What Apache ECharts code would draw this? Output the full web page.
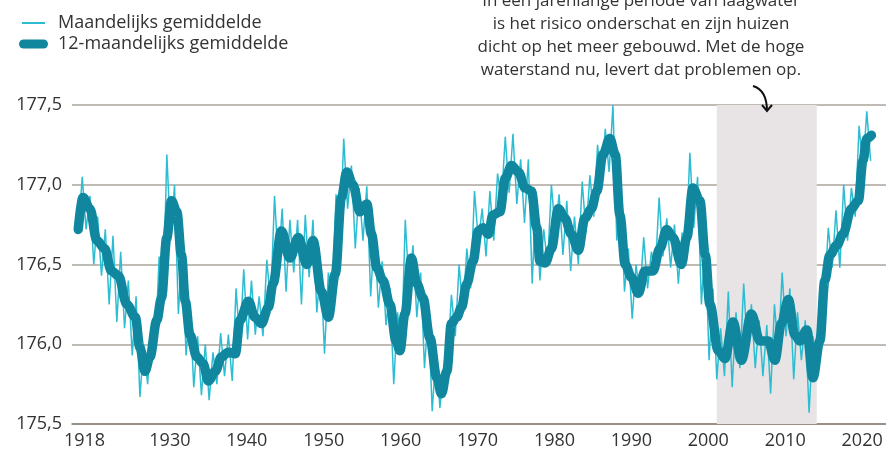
<!DOCTYPE html>
<html>
<head>
<meta charset="utf-8">
<script src="https://cdn.jsdelivr.net/npm/echarts@6/dist/echarts.min.js"></script>
<style>
  html, body { margin: 0; padding: 0; background: #fff; }
  #chart { width: 886px; height: 450px; }
</style>
</head>
<body>
<div id="chart"></div>
<script>
'use strict';

// waterstand Michigan-Huronmeer (m)
var yearLabels = [1918, 1930, 1940, 1950, 1960, 1970, 1980, 1990, 2000, 2010, 2020];

// 12-maandelijks gemiddelde
var avgYears = [
    1918.08, 1918.7, 1919.6, 1920.5, 1921.5, 1922.4, 1923.3, 1924.4, 1925.5, 1926.1,
    1926.75, 1927.4, 1928.3, 1928.9, 1929.6, 1930.2, 1930.9, 1931.5, 1932.0, 1932.6,
    1933.5, 1934.3, 1935.0, 1935.9, 1936.7, 1937.6, 1938.5, 1939.1, 1940.2, 1941.05,
    1941.9, 1942.8, 1943.4, 1944.5, 1945.6, 1946.7, 1947.8, 1948.6, 1949.7, 1950.6,
    1951.5, 1952.3, 1953.0, 1953.8, 1954.7, 1955.6, 1956.2, 1956.9, 1957.7, 1958.6,
    1959.4, 1959.9, 1960.55, 1961.4, 1962.1, 1962.9, 1963.8, 1964.7, 1965.3, 1966.0,
    1966.6, 1967.3, 1967.9, 1968.6, 1969.4, 1970.1, 1970.7, 1971.4, 1972.0, 1972.9,
    1973.6, 1974.4, 1975.3, 1976.2, 1977.0, 1977.7, 1978.1, 1978.8, 1979.6, 1980.5,
    1981.35, 1982.2, 1983.1, 1983.95, 1984.8, 1985.5, 1986.3, 1987.2, 1987.9, 1988.5,
    1989.2, 1990.0, 1990.9, 1991.75, 1992.8, 1993.7, 1994.6, 1995.4, 1996.5, 1997.2,
    1998.0, 1998.9, 1999.6, 2000.2, 2001.3, 2002.15, 2003.2, 2004.3, 2005.6, 2006.7,
    2007.8, 2008.65, 2009.5, 2010.4, 2011.25, 2011.9, 2012.8, 2013.6, 2014.5, 2015.15,
    2015.8, 2016.7, 2017.5, 2018.6, 2019.5, 2020.1, 2020.6, 2021.2
];
var avgLevels = [
    176.72, 176.92, 176.85, 176.65, 176.60, 176.46, 176.43, 176.25, 176.17, 175.98,
    175.83, 175.92, 176.15, 176.29, 176.67, 176.90, 176.83, 176.56, 176.27, 176.06,
    175.92, 175.88, 175.77, 175.83, 175.92, 175.95, 175.94, 176.15, 176.27, 176.17,
    176.13, 176.23, 176.38, 176.71, 176.54, 176.67, 176.50, 176.65, 176.33, 176.17,
    176.44, 176.92, 177.08, 177.00, 176.83, 176.88, 176.69, 176.48, 176.40, 176.25,
    176.02, 175.96, 176.19, 176.54, 176.38, 176.29, 176.04, 175.79, 175.69, 175.83,
    176.13, 176.17, 176.23, 176.38, 176.52, 176.71, 176.73, 176.69, 176.81, 176.83,
    177.04, 177.12, 177.08, 176.98, 176.96, 176.73, 176.52, 176.51, 176.60, 176.85,
    176.79, 176.69, 176.59, 176.79, 176.85, 176.96, 177.19, 177.29, 177.19, 176.81,
    176.50, 176.42, 176.32, 176.46, 176.46, 176.60, 176.72, 176.67, 176.50, 176.67,
    176.98, 176.90, 176.56, 176.25, 175.96, 175.91, 176.14, 175.90, 176.19, 176.02,
    176.02, 175.90, 176.13, 176.28, 176.06, 176.02, 176.09, 175.79, 176.02, 176.40,
    176.56, 176.62, 176.69, 176.85, 176.90, 177.15, 177.29, 177.31
];

// maandelijks gemiddelde: winterdal en zomerpiek per jaar, vanaf 1918
var monthlyLow = [
    176.70, 176.72, 176.50, 176.43, 176.25, 176.14, 176.10, 175.93, 175.67, 175.75,
    175.98, 176.25, 176.65, 176.19, 175.93, 175.73, 175.68, 175.65, 175.75, 175.80,
    175.77, 176.00, 176.03, 176.06, 176.05, 176.25, 176.50, 176.33, 176.45, 176.25,
    176.42, 176.20, 175.94, 176.25, 176.65, 176.85, 176.60, 176.65, 176.30, 176.23,
    176.12, 175.75, 175.95, 176.35, 176.17, 175.85, 175.58, 175.60, 175.90, 176.05,
    176.20, 176.35, 176.65, 176.55, 176.65, 176.90, 176.95, 176.88, 176.76, 176.38,
    176.40, 176.50, 176.70, 176.56, 176.46, 176.50, 176.70, 176.80, 177.00, 177.08,
    176.65, 176.33, 176.16, 176.30, 176.35, 176.45, 176.55, 176.48, 176.38, 176.60,
    176.73, 176.25, 175.90, 175.78, 175.80, 175.73, 175.85, 175.95, 175.85, 175.80,
    175.69, 175.95, 176.05, 175.78, 175.90, 175.57, 175.80, 176.30, 176.48, 176.48,
    176.65, 176.80, 177.10, 177.15
];
var monthlyHigh = [
    177.05, 176.93, 176.80, 176.72, 176.68, 176.58, 176.40, 176.30, 176.00, 176.10,
    176.55, 177.19, 177.00, 176.60, 176.25, 176.05, 176.00, 175.95, 176.07, 176.06,
    176.35, 176.47, 176.40, 176.30, 176.53, 176.93, 176.85, 176.78, 176.78, 176.81,
    176.78, 176.50, 176.45, 176.94, 177.29, 177.12, 176.98, 176.99, 176.72, 176.52,
    176.35, 176.20, 176.78, 176.62, 176.45, 176.20, 175.95, 175.85, 176.31, 176.50,
    176.60, 176.96, 176.85, 176.96, 177.07, 177.30, 177.32, 177.16, 177.16, 176.95,
    176.72, 177.00, 176.94, 176.90, 176.80, 177.02, 177.06, 177.25, 177.35, 177.50,
    176.95, 176.60, 176.50, 176.67, 176.58, 176.92, 176.79, 176.75, 176.70, 177.20,
    177.05, 176.65, 176.35, 176.10, 176.33, 176.20, 176.38, 176.25, 176.15, 176.12,
    176.25, 176.45, 176.35, 176.20, 176.15, 176.05, 176.30, 176.73, 176.84, 177.00,
    176.98, 177.37, 177.46
];

// periode van laagwater
var lowWaterStart = 2001.1;
var lowWaterEnd = 2014.1;

var avgData = avgYears.map(function (y, i) { return [y, avgLevels[i]]; });
var monthlyData = [];
monthlyLow.forEach(function (v, i) {
    monthlyData.push([1918.1 + i, v]);
    if (i < monthlyHigh.length) {
        monthlyData.push([1918.6 + i, monthlyHigh[i]]);
    }
});

var textColor = '#333';
var fontFamily = '"Open Sans", sans-serif';
var thinColor = '#2dbdd2';
var thickColor = '#10879f';

var chart = echarts.init(document.getElementById('chart'));

var option = {
    animation: false,
    backgroundColor: '#fff',
    textStyle: { fontFamily: fontFamily },
    grid: { left: 72, right: 0, top: 105, bottom: 26 },
    legend: [
        {
            left: 22,
            top: 14,
            padding: 0,
            itemWidth: 23,
            itemHeight: 2,
            icon: 'rect',
            textStyle: { color: textColor, fontSize: 18, fontFamily: fontFamily, padding: [0, 0, 0, 8] },
            data: ['Maandelijks gemiddelde']
        },
        {
            left: 19,
            top: 35,
            padding: 0,
            itemWidth: 29,
            itemHeight: 9,
            icon: 'path://M4.5,0 H24.5 A4.5,4.5 0 0 1 24.5,9 H4.5 A4.5,4.5 0 0 1 4.5,0 Z',
            textStyle: { color: textColor, fontSize: 18, fontFamily: fontFamily, padding: [0, 0, 0, 5] },
            data: ['12-maandelijks gemiddelde']
        }
    ],
    xAxis: {
        type: 'value',
        min: 1917.27,
        max: 2023.1,
        splitLine: { show: false },
        axisTick: { show: false },
        axisLine: { show: true, lineStyle: { color: '#8c8174', width: 1.5 } },
        axisLabel: {
            customValues: [1918.9].concat(yearLabels.slice(1)),
            color: textColor,
            fontSize: 18,
            margin: 8,
            formatter: function (v) {
                return v < 1920 ? String(yearLabels[0]) : String(Math.round(v));
            }
        }
    },
    yAxis: {
        type: 'value',
        min: 175.5,
        max: 177.5,
        interval: 0.5,
        axisLine: { show: false },
        axisTick: { show: false },
        splitLine: { lineStyle: { color: '#aca59d', width: 1.5 } },
        axisLabel: {
            color: textColor,
            fontSize: 18,
            margin: 10,
            formatter: function (v) { return v.toFixed(1).replace('.', ','); }
        }
    },
    series: [
        {
            name: 'Maandelijks gemiddelde',
            type: 'line',
            data: monthlyData,
            symbol: 'none',
            z: 2,
            lineStyle: { color: thinColor, width: 1.5 },
            itemStyle: { color: thinColor },
            markArea: {
                silent: true,
                itemStyle: { color: '#e8e4e5' },
                data: [[{ xAxis: lowWaterStart }, { xAxis: lowWaterEnd }]]
            }
        },
        {
            name: '12-maandelijks gemiddelde',
            type: 'line',
            data: avgData,
            symbol: 'none',
            smooth: 0.35,
            smoothMonotone: 'x',
            z: 3,
            lineStyle: { color: thickColor, width: 9.5, cap: 'round', join: 'round' },
            itemStyle: { color: thickColor }
        }
    ],
    graphic: [
        {
            type: 'text',
            x: 641,
            y: -10,
            z: 10,
            style: {
                text: 'In een jarenlange periode van laagwater\nis het risico onderschat en zijn huizen\ndicht op het meer gebouwd. Met de hoge\nwaterstand nu, levert dat problemen op.',
                align: 'center',
                verticalAlign: 'top',
                fill: textColor,
                font: '17px ' + fontFamily,
                lineHeight: 23
            }
        },
        {
            type: 'bezierCurve',
            z: 10,
            shape: { x1: 753, y1: 86, cpx1: 763, cpy1: 89, cpx2: 767, cpy2: 98, x2: 767, y2: 111 },
            style: { stroke: '#111', lineWidth: 2, fill: null }
        },
        {
            type: 'polyline',
            z: 10,
            shape: { points: [[762, 105], [767, 111], [772, 105]] },
            style: { stroke: '#111', lineWidth: 2, fill: null }
        }
    ]
};

chart.setOption(option);
</script>
</body>
</html>
